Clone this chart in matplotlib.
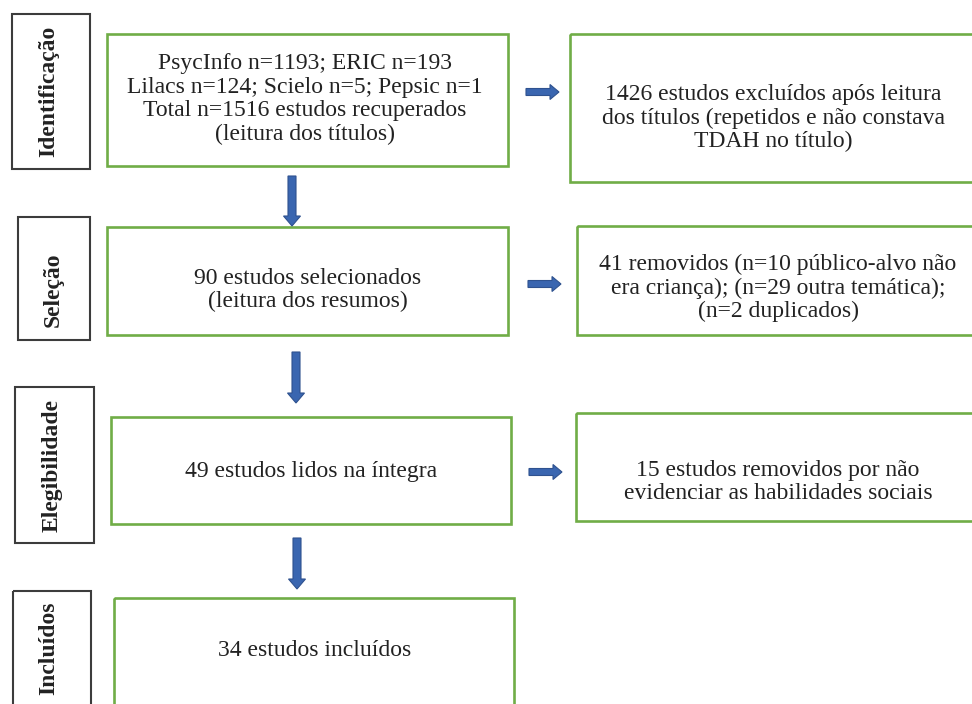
import matplotlib.pyplot as plt
from matplotlib.patches import Rectangle, FancyArrow

# textos do fluxograma
etapas = ["Identificação", "Seleção", "Elegibilidade", "Incluídos"]
caixas_principais = [
    "PsycInfo n=1193; ERIC n=193\nLilacs n=124; Scielo n=5; Pepsic n=1\nTotal n=1516 estudos recuperados\n(leitura dos títulos)",
    "90 estudos selecionados\n(leitura dos resumos)",
    "49 estudos lidos na íntegra",
    "34 estudos incluídos",
]
caixas_excluidos = [
    "1426 estudos excluídos após leitura\ndos títulos (repetidos e não constava\nTDAH no título)",
    "41 removidos (n=10 público-alvo não\nera criança); (n=29 outra temática);\n(n=2 duplicados)",
    "15 estudos removidos por não\nevidenciar as habilidades sociais",
]

plt.rcParams['font.family'] = ['Liberation Serif', 'DejaVu Serif']

fig = plt.figure(figsize=(9.72, 7.04), dpi=100)
ax = fig.add_axes([0, 0, 1, 1])
ax.set_xlim(0, 972)
ax.set_ylim(704, 0)
ax.axis('off')

verde = '#70ad47'
azul = '#3a66b0'
cor_txt = '#222222'

# caixas (x0, y0, x1, y1) em pixels e centro do texto
pos_etapa = [(12, 14, 90, 169), (18, 217, 90, 340), (15, 387, 94, 543), (13, 591, 91, 720)]
txt_etapa = [(49, 91), (53, 290), (52, 466), (49, 648)]
pos_princ = [(107, 34, 508, 166), (107, 227, 508, 335), (111, 417, 511, 524), (114, 598, 514, 720)]
txt_princ = [(305, 99), (308, 290), (311, 471), (315, 651)]
pos_excl = [(570, 34, 990, 182), (577, 226, 990, 335), (576, 413, 990, 521)]
txt_excl = [(773, 118), (778, 288), (778, 482)]
pos_dir = [(526, 92), (528, 284), (529, 472)]
pos_baixo = [(292, 176, 226), (296, 352, 403), (297, 538, 589)]

for (x0, y0, x1, y1), (xt, yt), t in zip(pos_etapa, txt_etapa, etapas):
    ax.add_patch(Rectangle((x0, y0), x1 - x0, y1 - y0, fill=False, ec='#3c3c3c', lw=1.5))
    ax.text(xt, yt, t, rotation=90, ha='center', va='center', color=cor_txt,
            fontsize=17, fontweight='bold')

for (x0, y0, x1, y1), (xt, yt), t in zip(pos_princ, txt_princ, caixas_principais):
    ax.add_patch(Rectangle((x0, y0), x1 - x0, y1 - y0, fill=False, ec=verde, lw=1.9))
    ax.text(xt, yt, t, ha='center', va='center', fontsize=17, linespacing=1.15,
            color=cor_txt)

for (x0, y0, x1, y1), (xt, yt), t in zip(pos_excl, txt_excl, caixas_excluidos):
    ax.add_patch(Rectangle((x0, y0), x1 - x0, y1 - y0, fill=False, ec=verde, lw=1.9))
    ax.text(xt, yt, t, ha='center', va='center', fontsize=17, linespacing=1.15,
            color=cor_txt)

for x, y in pos_dir:
    ax.add_patch(FancyArrow(x, y, 33, 0, width=7, head_width=15, head_length=9,
                            length_includes_head=True, fc=azul, ec='#2f528f', lw=0.8))

for x, y0, y1 in pos_baixo:
    ax.add_patch(FancyArrow(x, y0, 0, y1 - y0, width=8, head_width=17, head_length=10,
                            length_includes_head=True, fc=azul, ec='#2f528f', lw=0.8))

fig.savefig('out.png', dpi=100, facecolor='white')
